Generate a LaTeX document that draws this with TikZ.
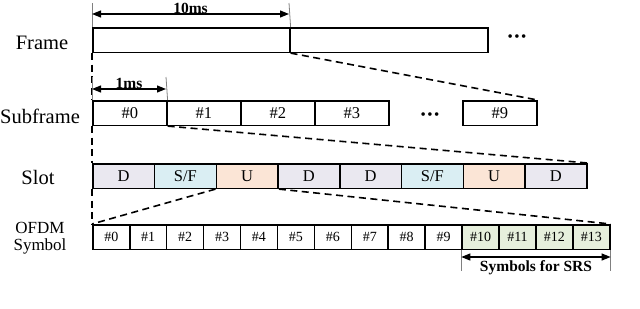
\documentclass[tikz,border=0pt]{standalone}
\usepackage{fontspec}
\setmainfont{Liberation Serif}
\usepackage{tikz}
\usetikzlibrary{arrows.meta}

\definecolor{dcol}{HTML}{EAE8F0}
\definecolor{sfcol}{HTML}{DAEEF3}
\definecolor{ucol}{HTML}{FBE5D6}
\definecolor{srscol}{HTML}{E6EFDC}
\newcommand{\slotSF}{S/F}

\begin{document}
\begin{tikzpicture}[x=1pt,y=-1pt,
  cell/.style={draw,line width=1.6pt,fill=white,inner sep=0pt,anchor=north west,
    minimum height=24.5pt,font=\fontsize{16.5}{18}\selectfont},
  sym/.style={cell,font=\fontsize{14}{16}\selectfont},
  rowlab/.style={anchor=base,font=\fontsize{20.5}{22}\selectfont},
  zoomline/.style={line width=1.6pt,dash pattern=on 7pt off 4.5pt},
  tick/.style={gray,line width=0.8pt},
  dimarrow/.style={{Triangle[length=9pt,width=7pt]}-{Triangle[length=9pt,width=7pt]},line width=1.2pt},
  dimlab/.style={font=\bfseries\fontsize{15.5}{17}\selectfont,inner sep=1pt},
  dots/.style={font=\fontsize{15}{17}\selectfont,inner sep=0pt}]
  \useasboundingbox (0,0) rectangle (640,308);

  % row labels
  \node[rowlab] (lframe) at (42,49) {Frame};
  \node[rowlab] (lsub) at (40,123) {Subframe};
  \node[rowlab] (lslot) at (38,184) {Slot};
  \node[rowlab,font=\fontsize{17}{18}\selectfont,align=center] (lofdm) at (40,250) {OFDM\\[-1pt]Symbol};

  % frame
  \node[cell,minimum width=197pt] (f1) at (92,27) {};
  \node[cell,minimum width=198pt] (f2) at (289,27) {};
  \node[dots] (fdots) at (517,38) {\textbullet\hspace{1.5pt}\textbullet\hspace{1.5pt}\textbullet};

  % subframe
  \foreach \i in {0,...,3}
    \node[cell,minimum width=74pt] (sf\i) at ({92+74*\i},100) {\#\i};
  \node[dots] (sfdots) at (430,116) {\textbullet\hspace{1.5pt}\textbullet\hspace{1.5pt}\textbullet};
  \node[cell,minimum width=74pt] (sf9) at (462,100) {\#9};

  % slot
  \foreach \lab/\col [count=\i from 0] in {D/dcol,\slotSF/sfcol,U/ucol,D/dcol,D/dcol,\slotSF/sfcol,U/ucol,D/dcol}
    \node[cell,fill=\col,minimum width=61.75pt] (sl\i) at ({92+61.75*\i},163) {\lab};

  % OFDM symbols
  \foreach \i in {0,...,9}
    \node[sym,minimum width=36.93pt] (o\i) at ({92+36.93*\i},224) {\#\i};
  \foreach \i in {10,...,13}
    \node[sym,fill=srscol,minimum width=36.93pt] (o\i) at ({92+36.93*\i},224) {\#\i};

  % zoom lines
  \draw[zoomline] (f1.south west) -- (sf0.north west);
  \draw[zoomline] (sf0.south west) -- (sl0.north west);
  \draw[zoomline] (sl0.south west) -- (o0.north west);
  \draw[zoomline] (f1.south east) -- (sf9.north east);
  \draw[zoomline] (sf0.south east) -- (sl7.north east);
  \draw[zoomline] (sl2.south west) -- (o0.north west);
  \draw[zoomline] (sl2.south east) -- (o13.north east);

  % 10ms
  \coordinate (t10l) at (92,3);
  \coordinate (t10r) at (289,3);
  \draw[tick] (t10l) -- (f1.north west);
  \draw[tick] (t10r) -- (f1.north east);
  \draw[dimarrow] ([yshift=-11pt]t10l) -- ([yshift=-11pt]t10r)
    node[dimlab,midway,above=-1pt] (l10) {10ms};

  % 1ms
  \coordinate (t1l) at (92,77);
  \coordinate (t1r) at (166,77);
  \draw[tick] (t1l) -- (sf0.north west);
  \draw[tick] (t1r) -- (sf0.north east);
  \draw[dimarrow] ([yshift=-12pt]t1l) -- ([yshift=-12pt]t1r)
    node[dimlab,midway,above=-1pt] (l1) {1ms};

  % SRS
  \coordinate (tsl) at (o10.south west |- 0,271);
  \coordinate (tsr) at (o13.south east |- 0,271);
  \draw[tick] (o10.south west) -- (tsl);
  \draw[tick] (o13.south east) -- (tsr);
  \draw[dimarrow] ([yshift=14pt]tsl) -- ([yshift=14pt]tsr)
    node[dimlab,midway,below=2pt] (lsrs) {Symbols for SRS};
\end{tikzpicture}
\end{document}
